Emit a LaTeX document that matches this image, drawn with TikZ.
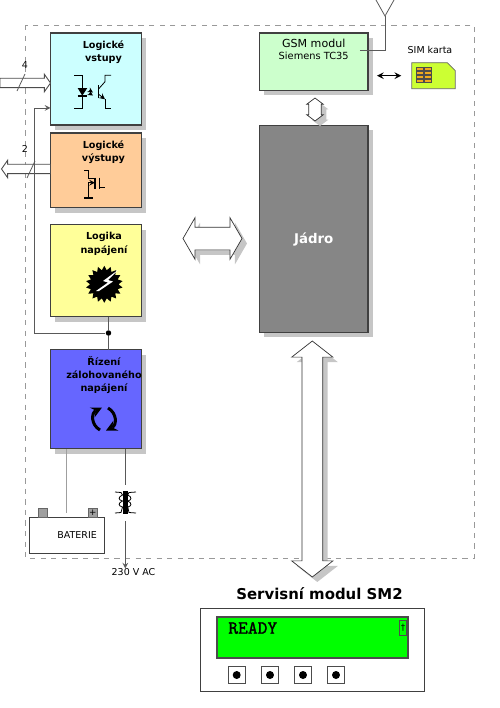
\documentclass[tikz,border=0pt]{standalone}
\usepackage{fontspec}
\setmainfont{DejaVu Sans}
\newfontfamily\lcdfont[FakeBold=1.5]{Latin Modern Mono}
\usepackage{xcolor}
\usetikzlibrary{arrows, positioning, calc, shadows, shapes.arrows, shapes.geometric}

\definecolor{inputcol}{RGB}{204,255,255}
\definecolor{outputcol}{RGB}{255,204,153}
\definecolor{powercol}{RGB}{255,255,153}
\definecolor{backupcol}{RGB}{102,102,255}
\definecolor{gsmcol}{RGB}{204,255,204}
\definecolor{simcol}{RGB}{204,255,51}
\definecolor{chipcol}{RGB}{240,170,30}

\begin{document}
\begin{tikzpicture}[
    x=0.02cm,
    y=-0.02cm,
    >=stealth,
    hardshadow/.style={
        drop shadow={shadow xshift=0.1cm, shadow yshift=-0.1cm, fill=gray!45, opacity=1}
    },
    block/.style={
        rectangle,
        draw=black!75,
        line width=0.6pt,
        outer sep=0pt,
        inner sep=0pt,
        minimum width=1.82cm,
        hardshadow
    },
    blocktext/.style={
        font=\fontsize{5.5}{7.6}\selectfont\bfseries,
        align=center,
        inner sep=0pt
    },
    plaintext/.style={
        font=\fontsize{5.4}{7.6}\selectfont,
        align=center,
        inner sep=0pt
    },
    wire/.style={
        line width=0.45pt,
        color=black!65
    },
    softwire/.style={
        line width=0.6pt,
        color=gray!75
    },
    symbol/.style={
        line width=0.45pt,
        color=black
    },
    busarrow/.style={
        double arrow,
        draw=black!80,
        fill=white,
        line width=0.4pt,
        outer sep=0pt,
        hardshadow
    },
    iobus/.style={
        single arrow,
        draw=black!70,
        fill=white,
        line width=0.5pt,
        inner xsep=0pt,
        inner ysep=0.085cm,
        outer sep=0pt,
        single arrow head extend=0.08cm,
        single arrow tip angle=110
    },
    btnbox/.style={
        rectangle,
        draw=black!70,
        fill=white,
        line width=0.5pt,
        minimum size=0.34cm,
        inner sep=0pt
    },
    btndot/.style={
        circle,
        fill=black,
        minimum size=0.16cm,
        inner sep=0pt
    }
]
\useasboundingbox (0,0) rectangle (500,708);

% frame
\draw[dashed, line width=0.4pt, color=gray!80] (25.5,25) rectangle (474,558);

% left column
\node[block, fill=inputcol, minimum height=1.84cm, anchor=north west] (vstupy) at (50.5,33) {};
\node[block, fill=outputcol, minimum height=1.5cm, below=0.16cm of vstupy] (vystupy) {};
\node[block, fill=powercol, minimum height=1.84cm, below=0.34cm of vystupy] (napajeni) {};
\node[block, fill=backupcol, minimum height=1.98cm, below=0.66cm of napajeni] (rizeni) {};

\node[blocktext, below=0.14cm of vstupy.north, xshift=0.15cm] (vstupytxt) {Logické\\vstupy};
\node[blocktext, below=0.14cm of vystupy.north, xshift=0.15cm] (vystupytxt) {Logické\\výstupy};
\node[blocktext, below=0.14cm of napajeni.north, xshift=0.16cm] (napajenitxt) {Logika\\napájení};
\node[blocktext, below=0.12cm of rizeni.north, xshift=0.16cm] (rizenitxt) {Řízení\\zálohovaného\\napájení};

% right column
\node[block, fill=gsmcol, minimum width=2.17cm, minimum height=1.15cm, anchor=north west] (gsm) at (259.5,33) {};
\node[block, fill=gray!95, minimum width=2.17cm, minimum height=4.14cm, below=0.7cm of gsm] (jadro) {};
\node[inner sep=0pt, font=\fontsize{7.6}{9}\selectfont\bfseries, color=white, below=2.28cm of jadro.north, anchor=center] (jadrotxt) {Jádro};
\node[inner sep=0pt, below=0.12cm of gsm.north, font=\fontsize{6.3}{8}\selectfont] (gsmtxt) {GSM modul};
\node[plaintext, font=\fontsize{5.6}{7.6}\selectfont, below=0.07cm of gsmtxt] (siemens) {Siemens TC35};

% sim
\node[inner sep=0pt, outer sep=0pt, minimum width=0.87cm, minimum height=0.52cm] (sim) at (433.5,75.7) {};
\filldraw[draw=black!60, fill=simcol, line width=0.4pt] (sim.north west) -- ([xshift=-0.16cm]sim.north east)
    -- ([yshift=-0.16cm]sim.north east) -- (sim.south east) -- (sim.south west) -- cycle;
\node[plaintext, above=0.18cm of sim, xshift=-0.07cm] (simtxt) {SIM karta};
\foreach \row in {0,1,2,3} {
    \foreach \col in {0,1} {
        \draw[fill=chipcol, draw=black!70, line width=0.25pt] (416+\col*8,67.5+\row*4) rectangle ++(7,3);
    }
}
\draw[<->, line width=0.7pt, color=black, shorten <=0.18cm, shorten >=0.21cm] (gsm.east |- sim.west) -- (sim.west);

% antenna
\coordinate (anttip) at (385,16);
\coordinate (antleft) at (376,0);
\coordinate (antright) at (394,0);
\draw[wire] ([xshift=-0.16cm, yshift=0.23cm]gsm.east) -| (anttip);
\draw[wire] (antleft) -- (anttip) -- (antright);

% buses
\node[busarrow, inner xsep=0.12cm, inner ysep=0pt, double arrow head extend=0.04cm, double arrow tip angle=106, shape border rotate=90,
    minimum height=0.46cm] (gsmbus) at (315,109.5) {};
\node[busarrow, inner xsep=0pt, inner ysep=0.22cm, double arrow head extend=0.19cm, double arrow tip angle=120,
    minimum height=1.18cm] (sidebus) at (212.5,238.5) {};
\node[busarrow, inner xsep=0.2cm, inner ysep=0pt, double arrow head extend=0.205cm, double arrow tip angle=104, shape border rotate=90,
    minimum height=4.72cm] (mainbus) at (312.3,459) {};

\node[iobus, minimum height=1.01cm, left=0pt of vstupy, yshift=-0.08cm] (inbus) {};
\node[iobus, minimum height=0.98cm, shape border rotate=180, left=0pt of vystupy, yshift=0.03cm] (outbus) {};
\draw[wire] (17,91) -- (25,74);
\draw[wire] (27,178) -- (35,161);
\node[plaintext] (intxt) at (25,65) {4};
\node[plaintext] (outtxt) at (25,149) {2};

% supply wiring
\node[circle, fill=black, minimum size=0.11cm, inner sep=0pt] (junction) at (108.5,333) {};
\coordinate (bend) at (34,333);
\draw[wire, ->] (junction) -- (bend) |- ([yshift=-0.58cm]vstupy.west);
\draw[wire] (junction |- napajeni.south) -- (junction) -- (junction |- rizeni.north);

% battery
\node[draw=black!75, line width=0.5pt, minimum width=1.5cm, minimum height=0.72cm, text width=1.2cm, align=right,
    inner xsep=0.15cm, inner ysep=0pt, outer sep=0pt, font=\fontsize{5.4}{7}\selectfont, anchor=north west] (baterie) at (29.3,517) {BATERIE};
\node[draw=black!60, fill=gray!75, minimum width=0.17cm, minimum height=0.18cm, inner sep=0pt, outer sep=0pt,
    above=0pt of baterie.north, xshift=-0.48cm] (minus) {};
\node[draw=black!60, fill=gray!75, minimum width=0.17cm, minimum height=0.18cm, inner sep=0pt, outer sep=0pt,
    above=0pt of baterie.north, xshift=0.52cm, font=\fontsize{5}{5}\selectfont] (plus) {+};
\draw[softwire] (baterie.north |- rizeni.south) -- ([yshift=0.08cm]baterie.north);

% transformer
\node[inner sep=0pt, minimum width=0.4cm, minimum height=0.46cm] (trafo) at (125.3,502.5) {};
\node[plaintext, anchor=north] (ac) at (133.5,568.5) {230 V AC};
\draw[wire] (trafo |- rizeni.south) -- ([yshift=0.12cm]trafo.north);
\draw[wire, ->] ([yshift=-0.14cm]trafo.south) -- (trafo |- ac.north);
\fill[black] (122.5,491) rectangle (127.8,514);
\draw[symbol] (115,492) -- (121,492.5) -- (122.5,495)
    .. controls (118,497) and (118,500) .. (122.5,501)
    .. controls (118,503) and (118,506) .. (122.5,507)
    -- (121,512.5) -- (115,513);
\draw[symbol] (136,492) -- (129,492.5) -- (127.8,495)
    .. controls (132,497) and (132,500) .. (127.8,501)
    .. controls (132,503) and (132,506) .. (127.8,507)
    -- (129,512.5) -- (136,513);

% optocoupler
\draw[symbol] (74,75.3) -- (82.3,75.3) -- (82.3,108.3) -- (74,108.3);
\fill (77.7,88) -- (87.3,88) -- (82.3,95.7) -- cycle;
\draw[symbol, line width=1pt] (77.7,96.3) -- (87.3,96.3);
\draw[symbol, ->, line width=0.35pt] (89,90) -- (93,92.5);
\draw[symbol, ->, line width=0.35pt] (89,93) -- (93,95.5);
\draw[symbol, line width=0.9pt] (98.3,85) -- (98.3,98.3);
\draw[symbol] (98.3,89.3) -- (105,81.7) -- (105,75.3) -- (111,75.3);
\draw[symbol, ->] (98.3,94) -- (105,99.3);
\draw[symbol] (105,99.3) -- (105,108.3) -- (111,108.3);

% mosfet
\draw[symbol] (84,170.3) -- (88.3,170.3) -- (88.3,178.3) -- (95,178.3);
\draw[symbol, ->] (88.3,182.7) -- (95,182.7);
\draw[symbol] (88.3,182.7) -- (88.3,197.7);
\draw[symbol, line width=1.3pt] (84,197.7) -- (93.3,197.7);
\draw[symbol, line width=0.9pt] (95,177.7) -- (95,189.3);
\draw[symbol] (99.3,177.7) -- (99.3,189.3);
\draw[symbol] (99.3,187.3) -- (105,187.3);

% burst
\node[star, star points=18, star point ratio=1.3, fill=black, minimum size=0.74cm, inner sep=0pt] (burst) at (104.3,284.3) {};
\fill[white] (118,270) -- (103,281) -- (108,282.5) -- (96,291) -- (99,291) -- (113,281.5) -- (108,280) -- cycle;

% recycle arrows
\draw[->, line width=1.7pt] (100,430) .. controls (91,425) and (91,413) .. (102,407.5);
\draw[->, line width=1.7pt] (108,408) .. controls (117,413) and (117,425) .. (106,430.5);

% service module
\node[font=\fontsize{8.5}{10}\selectfont\bfseries, inner sep=0pt] (smtitle) at (319.5,594) {Servisní modul SM2};
\node[draw=black!75, line width=0.5pt, minimum width=4.48cm, minimum height=1.66cm, inner sep=0pt, outer sep=0pt, anchor=north west] (panel) at (200,608) {};
\node[draw=black!70, fill=green, line width=0.7pt, minimum width=3.82cm, minimum height=0.82cm, inner sep=0pt, outer sep=0pt, anchor=north west] (lcd) at (217,617) {};
\node[inner sep=0pt, anchor=west, font=\lcdfont\fontsize{10.6}{12}\selectfont] (ready) at (228,628) {READY};
\node[draw=black!70, fill=green, line width=0.5pt, minimum width=0.14cm, minimum height=0.3cm, inner sep=0pt, font=\fontsize{5}{6}\selectfont] (cursor) at (403,627.5) {†};
\foreach \x [count=\i] in {236.7,270,303,336} {
    \node[btnbox] (btn\i) at (\x,675) {};
    \node[btndot] (btndot\i) at (btn\i) {};
}

\end{tikzpicture}
\end{document}
